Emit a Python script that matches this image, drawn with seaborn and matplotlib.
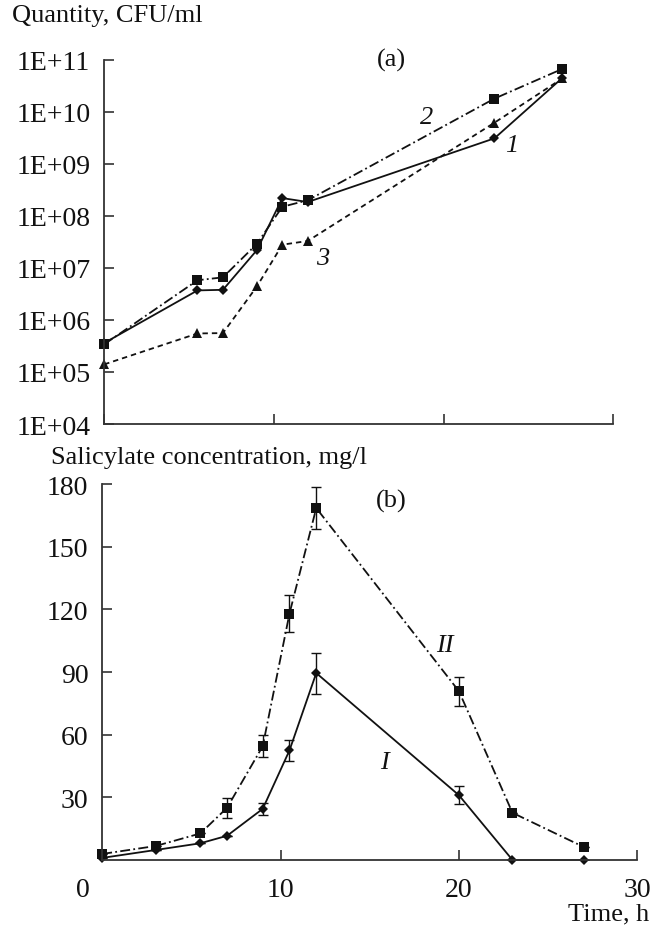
import numpy as np
import pandas as pd
import seaborn as sns
import matplotlib
matplotlib.use("Agg")
import matplotlib.pyplot as plt
from matplotlib.transforms import ScaledTranslation

# ---------------- data ----------------
# panel (a): cell quantity, CFU/ml
time_a = [0, 5.5, 7, 9, 10.5, 12, 23, 27]
cfu_1 = [3.6e5, 3.7e6, 3.8e6, 2.2e7, 2.2e8, 1.85e8, 3.1e9, 4.5e10]
cfu_2 = [3.4e5, 5.8e6, 6.6e6, 2.9e7, 1.5e8, 2.0e8, 1.8e10, 6.7e10]
cfu_3 = [1.4e5, 5.5e5, 5.6e5, 4.4e6, 2.8e7, 3.3e7, 6.2e9, 4.4e10]
ytick_a = [1e4, 1e5, 1e6, 1e7, 1e8, 1e9, 1e10, 1e11]
ytick_a_labels = ["1E+04", "1E+05", "1E+06", "1E+07", "1E+08", "1E+09", "1E+10", "1E+11"]

# panel (b): salicylate concentration, mg/l
time_b = [0, 3, 5.5, 7, 9, 10.5, 12, 20, 23, 27]
sal_I = [1.0, 4.8, 8.0, 11.6, 24.5, 52.5, 89.5, 31.0, 0.0, 0.0]
sal_I_err = [0, 0, 0, 0, 3.0, 5.0, 9.8, 4.3, 0, 0]
sal_II = [2.9, 6.7, 12.7, 25.0, 54.5, 118.0, 168.5, 80.8, 22.6, 6.2]
sal_II_err = [0, 0, 0, 4.8, 5.3, 9.0, 10.0, 7.0, 0, 0]
xticks = [0, 10, 20, 30]
yticks_b = [30, 60, 90, 120, 150, 180]

# ---------------- style ----------------
sns.set_style("ticks")
plt.rcParams["font.family"] = ["Liberation Serif", "DejaVu Serif"]
FS = 19      # annotation / axis titles
TFS = 20     # tick labels
INK = "#111111"
SPINE = "#333333"

fig = plt.figure(figsize=(6.51, 9.29), dpi=100)
ax_a = fig.add_axes([0.160, 0.5425, 0.782, 0.392])
ax_b = fig.add_axes([0.157, 0.0732, 0.822, 0.4047])

lw = 1.3
dashdot = (5.5, 1.8, 1.0, 1.8)
dashed = (3.0, 2.2)

df_a = pd.DataFrame({"t": time_a, "c1": cfu_1, "c2": cfu_2, "c3": cfu_3})

sns.lineplot(data=df_a, x="t", y="c2", ax=ax_a, color=INK, lw=lw, marker="s",
             markersize=7, markeredgewidth=0, clip_on=False)
ax_a.lines[-1].set_dashes(dashdot)
sns.lineplot(data=df_a, x="t", y="c3", ax=ax_a, color=INK, lw=lw, marker="^",
             markersize=7.5, markeredgewidth=0, clip_on=False)
ax_a.lines[-1].set_dashes(dashed)
sns.lineplot(data=df_a, x="t", y="c1", ax=ax_a, color=INK, lw=lw, marker="D",
             markersize=5.5, markeredgewidth=0, clip_on=False)

ax_a.set_yscale("log")
ax_a.set_ylim(1e4, 1e11)
ax_a.set_xlim(0, 30)
ax_a.set_yticks(ytick_a)
ax_a.set_yticklabels(ytick_a_labels)
ax_a.yaxis.set_minor_locator(matplotlib.ticker.NullLocator())
ax_a.set_xticks(xticks)
ax_a.set_xticklabels([])
ax_a.set_xlabel("")
ax_a.set_ylabel("")

ax_a.text(19.0, 10**9.9, "2", fontsize=FS, style="italic", ha="center", va="center", color=INK)
ax_a.text(24.0, 10**9.36, "1", fontsize=FS, style="italic", ha="center", va="center", color=INK)
ax_a.text(12.9, 10**7.2, "3", fontsize=FS, style="italic", ha="center", va="center", color=INK)
ax_a.text(16.9, 10**11.0, "(a)", fontsize=FS, ha="center", va="center", color=INK)

# panel b
df_b = pd.DataFrame({"t": time_b, "I": sal_I, "II": sal_II})
ax_b.errorbar(time_b, sal_II, yerr=sal_II_err, fmt="none", ecolor=INK, elinewidth=1.0,
              capsize=3.5, capthick=1.0)
ax_b.errorbar(time_b, sal_I, yerr=sal_I_err, fmt="none", ecolor=INK, elinewidth=1.0,
              capsize=3.5, capthick=1.0)
sns.lineplot(data=df_b, x="t", y="II", ax=ax_b, color=INK, lw=lw, marker="s",
             markersize=7.5, markeredgewidth=0, clip_on=False)
ax_b.lines[-1].set_dashes(dashdot)
sns.lineplot(data=df_b, x="t", y="I", ax=ax_b, color=INK, lw=lw, marker="D",
             markersize=5.5, markeredgewidth=0, clip_on=False)

ax_b.set_xlim(0, 30)
ax_b.set_ylim(0, 180)
ax_b.set_xticks(xticks)
ax_b.set_xticklabels([str(v) for v in xticks])
ax_b.set_yticks(yticks_b)
ax_b.set_yticklabels([str(v) for v in yticks_b])
ax_b.set_xlabel("")
ax_b.set_ylabel("")

ax_b.text(16.2, 172, "(b)", fontsize=FS, ha="center", va="center", color=INK)
ax_b.text(19.2, 103, "II", fontsize=FS, style="italic", ha="center", va="center", color=INK)
ax_b.text(15.8, 47, "I", fontsize=FS, style="italic", ha="center", va="center", color=INK)

for ax in (ax_a, ax_b):
    sns.despine(ax=ax)
    for s in ("left", "bottom"):
        ax.spines[s].set_color(SPINE)
        ax.spines[s].set_linewidth(1.3)
    ax.tick_params(direction="in", length=7, width=1.2, color=SPINE,
                   labelsize=TFS, labelcolor=INK)
    ax.tick_params(axis="y", pad=10)
    ax.grid(False)
    ax.set_facecolor("white")

ax_b.tick_params(axis="x", pad=12)
# shift the "0" tick label left as in the original
lab0 = ax_b.get_xticklabels()[0]
lab0.set_transform(lab0.get_transform() + ScaledTranslation(-0.19, 0, fig.dpi_scale_trans))

fig.text(12 / 651, 1 - 16 / 929, "Quantity, CFU/ml", fontsize=FS, ha="left", va="center", color=INK)
fig.text(51 / 651, 1 - 458 / 929, "Salicylate concentration, mg/l", fontsize=FS,
         ha="left", va="center", color=INK)
fig.text(649 / 651, 1 - 914 / 929, "Time, h", fontsize=FS, ha="right", va="center", color=INK)

fig.savefig("out.png", dpi=100, facecolor="white")
